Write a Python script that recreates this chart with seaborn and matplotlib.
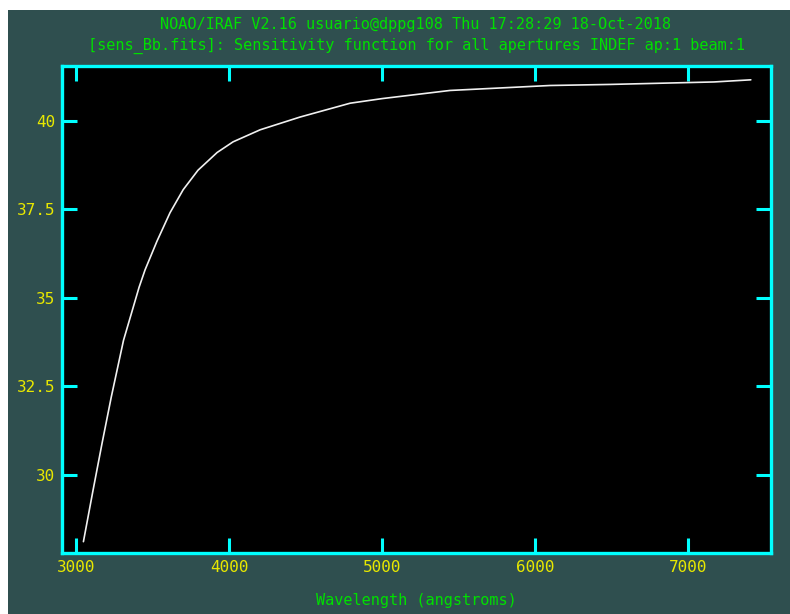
import matplotlib
matplotlib.use('Agg')
import matplotlib.pyplot as plt
from matplotlib.patches import Rectangle
import seaborn as sns
import pandas as pd

# sensitivity curve
wavelength = [3048, 3110, 3170, 3230, 3310, 3412, 3451, 3529, 3614, 3700, 3797, 3922,
              4026, 4203, 4464, 4791, 5000, 5444, 6098, 6490, 7170, 7410]
sensitivity = [28.12, 29.55, 30.9, 32.2, 33.8, 35.3, 35.79, 36.6, 37.4, 38.05, 38.6, 39.1,
               39.4, 39.74, 40.1, 40.49, 40.62, 40.85, 40.99, 41.02, 41.09, 41.15]
xticks = [3000, 4000, 5000, 6000, 7000]
yticks = [30, 32.5, 35, 37.5, 40]
ytick_labels = ['30', '32.5', '35', '37.5', '40']

title1 = 'NOAO/IRAF V2.16 usuario@dppg108 Thu 17:28:29 18-Oct-2018'
title2 = '[sens_Bb.fits]: Sensitivity function for all apertures INDEF ap:1 beam:1'
xlabel = 'Wavelength (angstroms)'

df = pd.DataFrame({'wavelength': wavelength, 'sensitivity': sensitivity})

sns.set_style('dark')
plt.rcParams['font.family'] = ['DejaVu Sans Mono']

BG = '#2f4f4f'
CYAN = '#00ffff'
YELLOW = '#e8e800'
GREEN = '#00e000'

fig = plt.figure(figsize=(7.9, 6.14), dpi=100, facecolor='white')
fig.patches.append(Rectangle((8 / 790, 0), 1, (614 - 10) / 614, transform=fig.transFigure,
                             facecolor=BG, edgecolor='none', zorder=-10))

ax = fig.add_axes([62 / 790, 61 / 614, (771 - 62) / 790, (553 - 66) / 614])
ax.set_facecolor('black')

sns.lineplot(data=df, x='wavelength', y='sensitivity', ax=ax, color='#f0f0f0', linewidth=1.2)

ax.set_xlim(2908, 7542)
ax.set_ylim(27.8, 41.54)
ax.set_xticks(xticks)
ax.set_xticklabels([str(t) for t in xticks])
ax.set_yticks(yticks)
ax.set_yticklabels(ytick_labels)
ax.grid(False)
ax.set_xlabel('')
ax.set_ylabel('')

for s in ax.spines.values():
    s.set_visible(True)
    s.set_color(CYAN)
    s.set_linewidth(2.4)

ax.tick_params(axis='both', which='major', direction='in', length=11, width=2.2,
               color=CYAN, labelcolor=YELLOW, labelsize=11.5,
               top=True, right=True, bottom=True, left=True)
ax.tick_params(axis='x', pad=5)
ax.tick_params(axis='y', pad=5)

fig.text(416 / 790, 1 - 25 / 614, title1, color=GREEN, fontsize=11, ha='center', va='center')
fig.text(416 / 790, 1 - 46 / 614, title2, color=GREEN, fontsize=11, ha='center', va='center')
fig.text(416 / 790, 1 - 600 / 614, xlabel, color=GREEN, fontsize=11, ha='center', va='center')

fig.savefig('out.png', dpi=100, facecolor=fig.get_facecolor())
